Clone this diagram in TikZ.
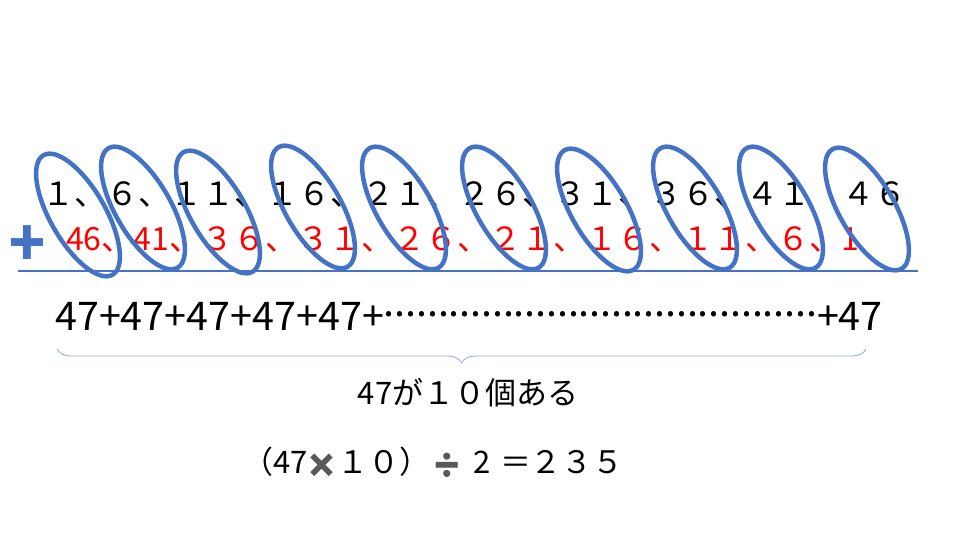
\documentclass[tikz,border=0pt]{standalone}
\usepackage{fontspec}
\setmainfont{Noto Sans CJK JP}
\newfontfamily\emo{Noto Emoji}
\usetikzlibrary{shapes.geometric,decorations.pathreplacing}
\definecolor{ringblue}{HTML}{4472C4}
\definecolor{bracecol}{HTML}{8FAADC}
\definecolor{symgray}{HTML}{595959}
\definecolor{numred}{HTML}{FF0000}
\newcommand\graysym[1]{{\emo\color{symgray}\fontsize{24}{28}\selectfont #1}}
\begin{document}
\begin{tikzpicture}[x=1pt,y=-1pt,
  ring/.style={draw=ringblue, line width=4.5pt, ellipse, minimum width=55pt, minimum height=138pt, inner sep=0pt, rotate=30},
  rowtext/.style={font=\fontsize{32}{38}\selectfont, inner sep=0pt, anchor=base west},
  sumtext/.style={font=\fontsize{39.5}{44}\selectfont, inner sep=0pt, anchor=base west},
  midtext/.style={font=\fontsize{31}{36}\selectfont, inner sep=0pt}]
\useasboundingbox (0,0) rectangle (960,540);
% the two rows of numbers
\node[rowtext] (up) at (42,205) {１、６、１１、１６、２１、２６、３１、３６、４１　４６};
\node[rowtext, text=numred] (down) at (66,250) {46、41、３６、３１、２６、２１、１６、１１、６、1};
\node[inner sep=0pt, text=ringblue, font=\emo\fontsize{35}{38}\selectfont] (plus) at (27,243) {➕};
\draw[ringblue, line width=1.5pt] (18,271) -- (918,271);
% pairs
\foreach \cx/\cy [count=\i] in {78/215, 143/208, 218/212, 313/207, 404/208, 504/208, 599/210, 695/208, 781/208, 867/209}
  \node[ring] (o\i) at (\cx,\cy) {};
% the sum
\node[sumtext] (sum) at (55,330) {47+47+47+47+47+\xleaders\hbox to 10.8pt{\hss\raisebox{0.35em}{.}\hss}\hskip 433pt+47};
\draw[bracecol, line width=0.8pt, decorate, decoration={brace, mirror, amplitude=14pt}] (57,349) -- (866,349);
\node[midtext] (count) at (468,393) {47が１０個ある};
\node[midtext, anchor=base west] (calc) at (242,473) {（47\hspace{4pt}\makebox[20pt]{\graysym{✖}}\hspace{6pt}１０）\makebox[43pt][l]{\hspace{1pt}\graysym{➗}}2\hspace{10pt}＝\hspace{-1pt}２３５};
\end{tikzpicture}
\end{document}
